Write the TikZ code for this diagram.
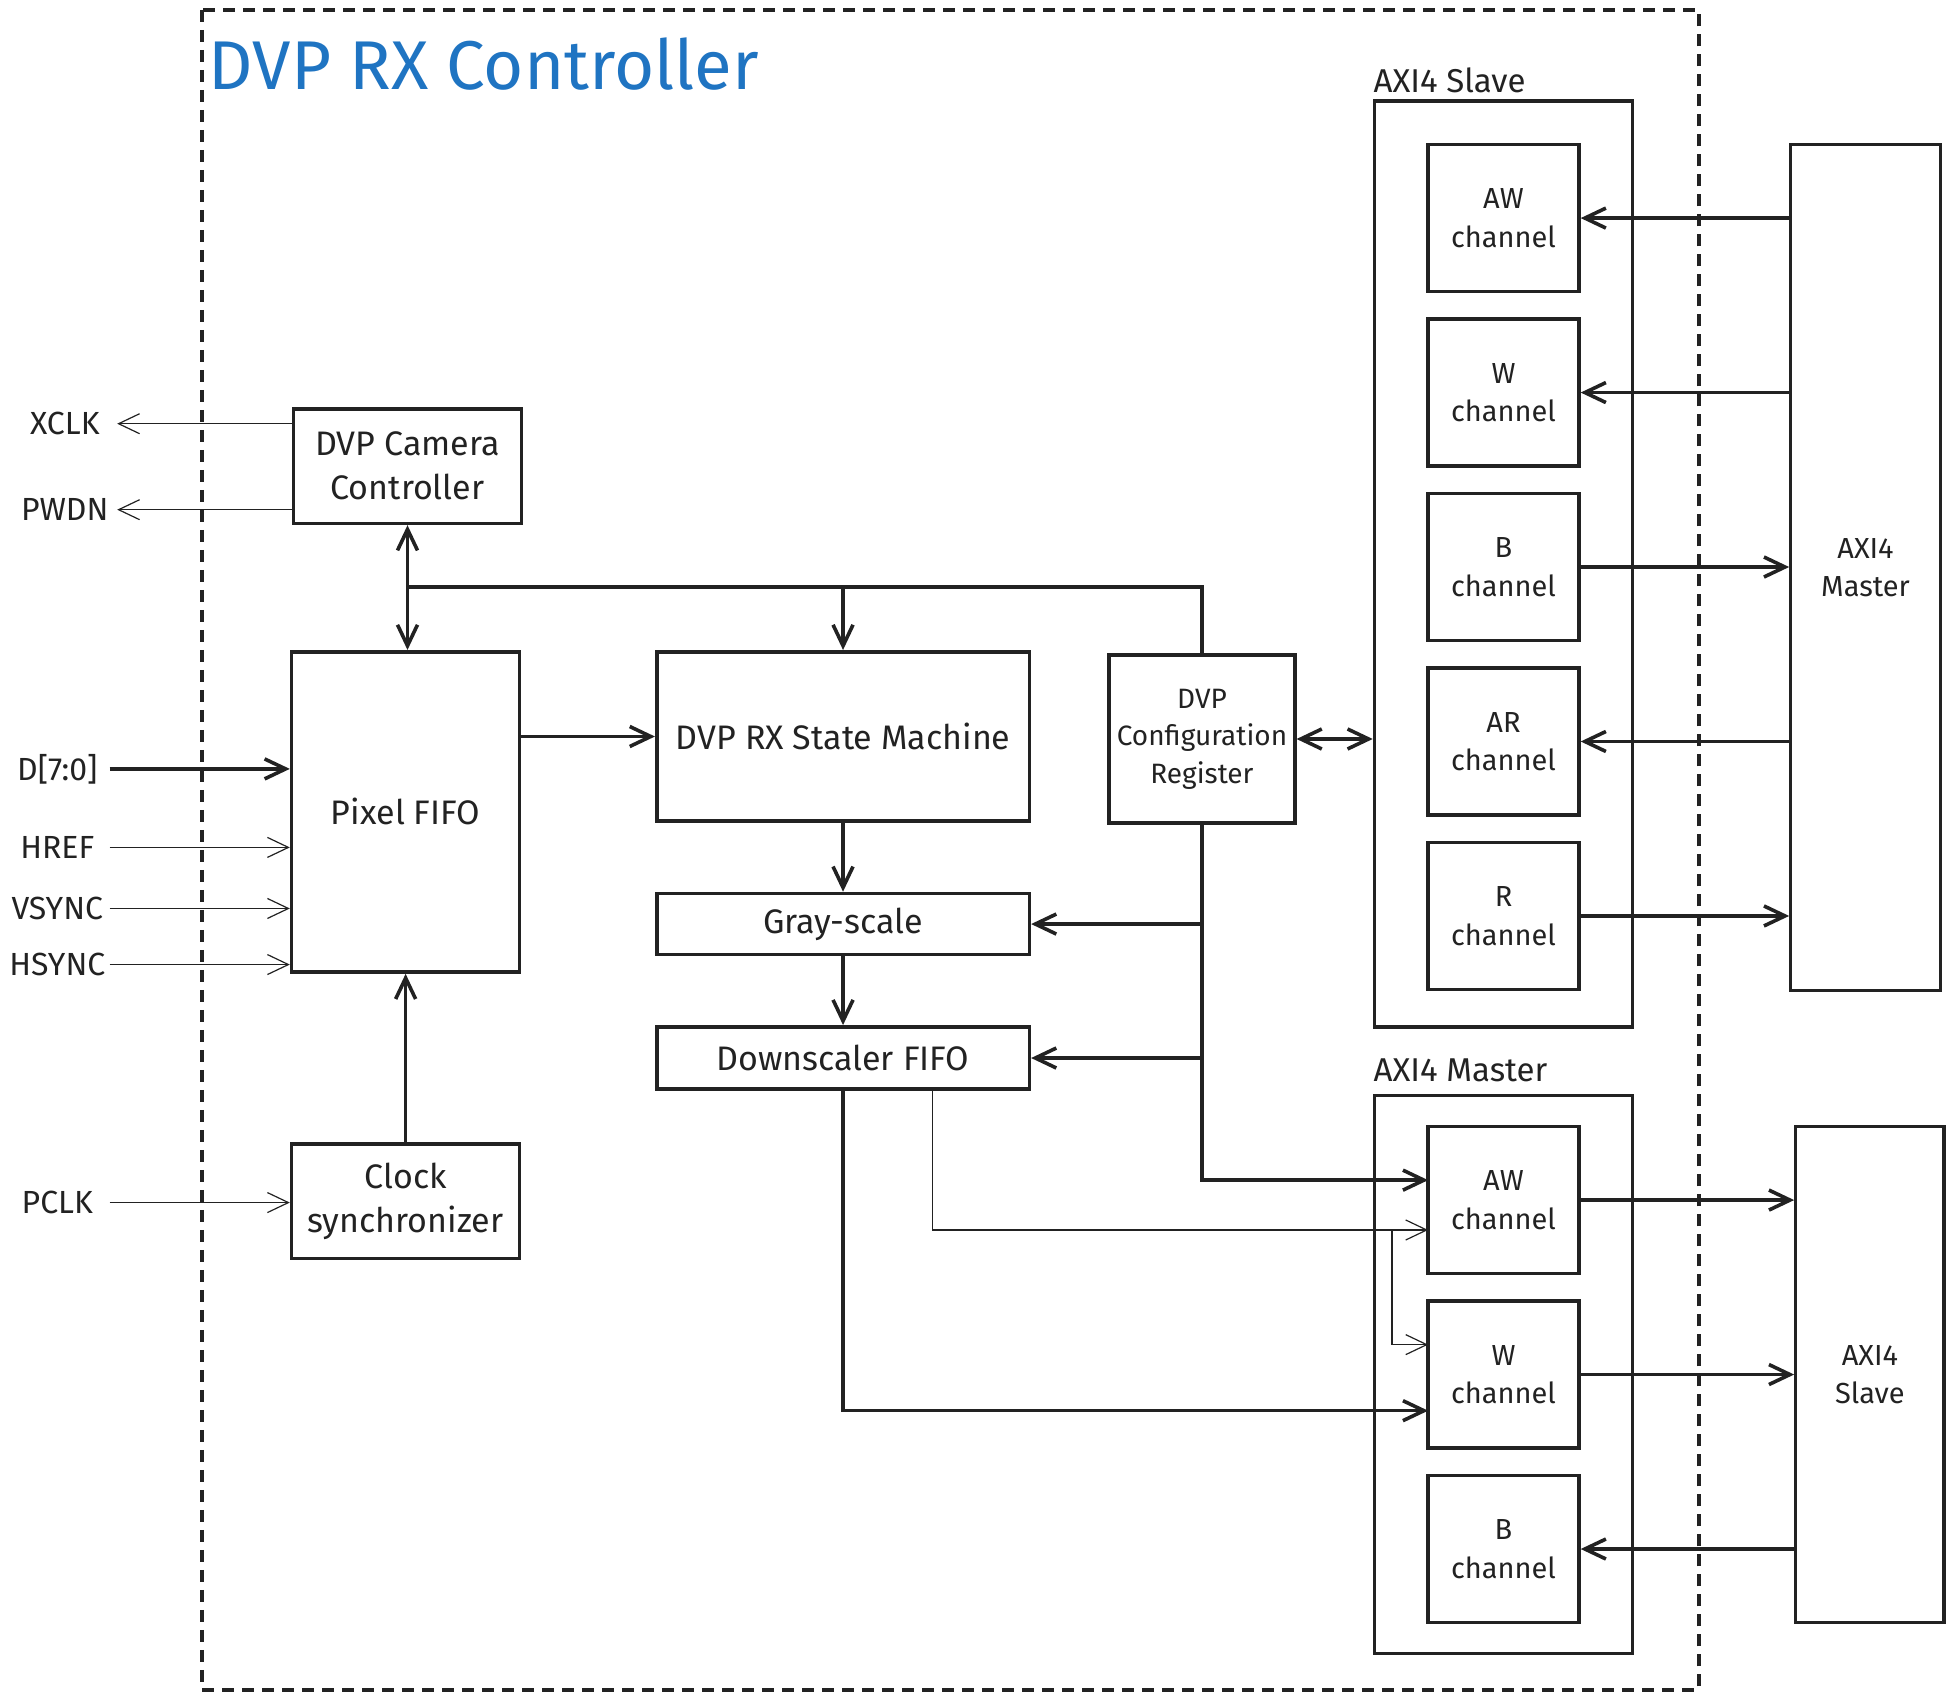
\documentclass[tikz,border=0pt]{standalone}
\usepackage{fontspec}
\setmainfont{Fira Sans}
\usetikzlibrary{arrows.meta}

\definecolor{ink}{HTML}{222222}
\definecolor{titleblue}{HTML}{1F74C2}

\newcommand\fsmain{\fontsize{17}{22}\selectfont}
\newcommand\fschan{\fontsize{14.5}{19.3}\selectfont}
\newcommand\fscfg{\fontsize{14}{18.7}\selectfont}
\newcommand\fssig{\fontsize{16}{19}\selectfont}

\tikzset{
	blk/.style={draw=ink, text=ink, line width=1.8pt, inner sep=0pt, align=center, font=\fsmain},
	sz/.style 2 args={minimum width=#1*0.62309pt, minimum height=#2*0.62309pt},
	chan/.style={blk, sz={121}{118}, font=\fschan},
	ext/.style={blk, line width=1.6pt, font=\fschan},
	grp/.style={draw=ink, line width=1.8pt, inner sep=0pt},
	grplbl/.style={text=ink, inner sep=0pt, anchor=base west, font=\fontsize{16.5}{20}\selectfont},
	sig/.style={text=ink, inner sep=0pt, minimum width=52pt, font=\fssig},
	thk/.style={draw=ink, line width=1.8pt},
	thn/.style={draw=ink, line width=0.6pt},
	frame/.style={draw=ink, line width=2pt, dash pattern=on 6pt off 4pt}
}

\begin{document}
\begin{tikzpicture}[x=0.62309pt, y=-0.62309pt, >={Straight Barb[length=10.5pt,width=10pt]}]
	\useasboundingbox (0,0) rectangle (1568,1364.2);

	% outer frame and title
	\draw[frame] (162,8) rectangle (1363,1356);
	\node[text=titleblue, inner sep=0pt, anchor=base west, font=\fontsize{34.5}{40}\selectfont] (ttl) at (167,72) {DVP RX Controller};

	% camera side blocks
	\node[blk, sz={183}{92}] (cam) at (327,374) {DVP Camera\\Controller};
	\node[blk, sz={183}{257}] (fifo) at (325.5,651.5) {Pixel FIFO};
	\node[blk, sz={183}{92}] (clk) at (325.5,964) {Clock\\synchronizer};

	% processing chain
	\node[blk, sz={299}{136}] (sm) at (676.5,591) {DVP RX State Machine};
	\node[blk, sz={299}{49}] (gray) at (676.5,741.5) {Gray-scale};
	\node[blk, sz={299}{50}] (ds) at (676.5,849) {Downscaler FIFO};
	\node[blk, sz={149}{135}, font=\fscfg] (cfg) at (964.5,593) {DVP\\Configuration\\Register};

	% AXI4 slave port
	\node[grp, sz={207}{743}] (sgrp) at (1206.5,452.5) {};
	\node[grplbl] (sgrplbl) at (1102,74) {AXI4 Slave};
	\foreach \n/\t [count=\i from 0] in {saw/AW, sw/W, sb/B, sar/AR, sr/R}
	{
		\node[chan] (\n) at (1206.5,175+140*\i) {\t\\channel};
	}
	\node[ext, sz={120}{679}] (mst) at (1497,455.5) {AXI4\\Master};

	% AXI4 master port
	\node[grp, sz={207}{448}] (mgrp) at (1206.5,1103) {};
	\node[grplbl] (mgrplbl) at (1102,868) {AXI4 Master};
	\foreach \n/\t [count=\i from 0] in {maw/AW, mw/W, mb/B}
	{
		\node[chan] (\n) at (1206.5,963+140*\i) {\t\\channel};
	}
	\node[ext, sz={119}{398}] (slv) at (1500.5,1103) {AXI4\\Slave};

	% camera pins
	\node[sig] (xclk) at (52,340) {XCLK};
	\node[sig] (pwdn) at (52,409) {PWDN};
	\node[sig] (dd) at (46,617) {D[7:0]};
	\node[sig] (href) at (46,680) {HREF};
	\node[sig] (vsync) at (46,729) {VSYNC};
	\node[sig] (hsync) at (46,774) {HSYNC};
	\node[sig] (pclk) at (46,965) {PCLK};

	\draw[thn,->] (xclk.east -| cam.west) -- (xclk.east);
	\draw[thn,->] (pwdn.east -| cam.west) -- (pwdn.east);
	\draw[thk,->] (dd.east) -- (dd.east -| fifo.west);
	\foreach \s in {href,vsync,hsync}
		\draw[thn,->] (\s.east) -- (\s.east -| fifo.west);
	\draw[thn,->] (pclk.east) -- (pclk.east -| clk.west);

	% internal connections
	\coordinate (busy) at (0,471);
	\draw[thk,<->] (cam.south) -- (cam.south |- fifo.north);
	\draw[thk] (cam.south |- busy) -- (cfg.north |- busy) -- (cfg.north);
	\draw[thk,->] (sm.north |- busy) -- (sm.north);
	\draw[thk,->] (clk.north) -- (fifo.south);
	\draw[thk,->] (fifo.east |- sm) -- (sm.west);
	\draw[thk,->] (sm.south) -- (gray.north);
	\draw[thk,->] (gray.south) -- (ds.north);
	\draw[thk,<->] (cfg.east) -- (cfg.east -| sgrp.west);
	\draw[thk,->] (cfg.south |- gray.east) -- (gray.east);
	\draw[thk,->] (cfg.south |- ds.east) -- (ds.east);

	\coordinate (cfgaw) at (1146,947);
	\coordinate (dsw) at (1146,1132);
	\coordinate (dsctl) at (748,874);
	\coordinate (split) at (1117,987);
	\coordinate (awctl) at (1146,987);
	\coordinate (wctl) at (1146,1079);
	\draw[thk,->] (cfg.south) |- (cfgaw);
	\draw[thk,->] (ds.south) |- (dsw);
	\draw[thn,->] (dsctl) |- (awctl);
	\draw[thn,->] (split) |- (wctl);

	% AXI4 channels
	\draw[thk,->] (saw.east -| mst.west) -- (saw.east);
	\draw[thk,->] (sw.east -| mst.west) -- (sw.east);
	\draw[thk,->] (sb.east) -- (sb.east -| mst.west);
	\draw[thk,->] (sar.east -| mst.west) -- (sar.east);
	\draw[thk,->] (sr.east) -- (sr.east -| mst.west);
	\draw[thk,->] (maw.east) -- (maw.east -| slv.west);
	\draw[thk,->] (mw.east) -- (mw.east -| slv.west);
	\draw[thk,->] (mb.east -| slv.west) -- (mb.east);
\end{tikzpicture}
\end{document}
